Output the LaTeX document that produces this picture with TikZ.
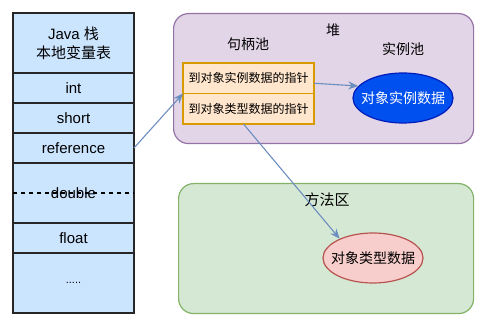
\documentclass[tikz,border=0pt]{standalone}
\usepackage{fontspec}
\setmainfont{Liberation Sans}
\newfontfamily\cjk{Noto Sans CJK SC}
\usetikzlibrary{arrows.meta,positioning,shapes.geometric}
\definecolor{stackfill}{HTML}{CCE5FF}
\definecolor{heapfill}{HTML}{E1D5E7}
\definecolor{heapline}{HTML}{9673A6}
\definecolor{methfill}{HTML}{D5E8D4}
\definecolor{methline}{HTML}{82B366}
\definecolor{ptrfill}{HTML}{FFE6CC}
\definecolor{ptrline}{HTML}{D79B00}
\definecolor{instfill}{HTML}{0050EF}
\definecolor{instline}{HTML}{001DBC}
\definecolor{typefill}{HTML}{F8CECC}
\definecolor{typeline}{HTML}{B85450}
\definecolor{arrc}{HTML}{6C8EBF}

\begin{document}
\begin{tikzpicture}[x=1pt, y=-1pt, node distance=0pt, >={Stealth[length=10pt,width=8pt]},
  cell/.style={draw=black!85, fill=stackfill, line width=1.2pt, minimum width=121pt, minimum height=30pt, inner sep=0pt, outer sep=0pt, font=\fontsize{15}{18}\selectfont},
  area/.style={line width=1.2pt, rounded corners=15pt, inner sep=0pt, anchor=north west},
  ptr/.style={draw=ptrline, fill=ptrfill, line width=1.2pt, minimum width=131pt, minimum height=30.5pt, inner sep=0pt, outer sep=0pt, font=\cjk\fontsize{12}{14}\selectfont},
  obj/.style={ellipse, line width=1.2pt, minimum width=100pt, minimum height=50pt, inner sep=0pt},
  lbl/.style={font=\cjk\fontsize{14}{16}\selectfont},
  e/.style={->, draw=arrc, line width=1.1pt}]
\useasboundingbox (0,0) rectangle (488,328);
% stack
\node[cell, minimum height=60pt, anchor=north west, align=center] (hd) at (13,13) {Java {\cjk 栈}\\[1pt]{\cjk 本地变量表}};
\node[cell, below=of hd] (ci) {int};
\node[cell, below=of ci] (cs) {short};
\node[cell, below=of cs] (cr) {reference};
\node[cell, below=of cr, minimum height=60pt] (cd) {double};
\node[cell, below=of cd] (cf) {float};
\node[cell, below=of cf, minimum height=60pt] (cm) {\fontsize{11}{13}\selectfont .....};
\draw[dash pattern=on 4pt off 4pt, line width=1.2pt] (cd.west) -- (cd.east);
% heap
\node[area, draw=heapline, fill=heapfill, minimum width=300pt, minimum height=130pt] (heap) at (173,13) {};
\node[lbl] (hl) at (333,30) {堆};
\node[lbl] (hp) at (248,44) {句柄池};
\node[lbl] (ip) at (403,49) {实例池};
\node[ptr, anchor=north west] (p1) at (183,63) {到对象实例数据的指针};
\node[ptr, below=of p1] (p2) {到对象类型数据的指针};
\node[obj, draw=instline, fill=instfill, label={[lbl, text=white]center:对象实例数据}] (io) at (403,98) {};
% method area
\node[area, draw=methline, fill=methfill, minimum width=295pt, minimum height=130pt] (meth) at (178,183) {};
\node[lbl, font=\cjk\fontsize{15}{17}\selectfont] (ml) at (327,200) {方法区};
\node[obj, draw=typeline, fill=typefill, label={[lbl]center:对象类型数据}] (to) at (373,258) {};
\draw[e] (cr.east) -- (p1.south west);
\draw[e] ([yshift=-5pt]p1.east) -- (io.165);
\draw[e] ([xshift=-5pt]p2.south) -- (to.150);
\end{tikzpicture}
\end{document}
